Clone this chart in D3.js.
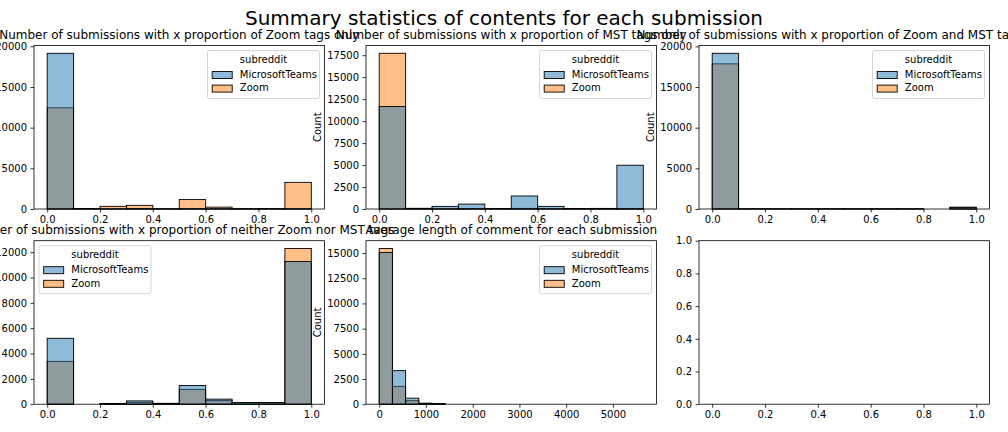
<!DOCTYPE html>
<html>
<head>
<meta charset="utf-8">
<script src="https://cdn.jsdelivr.net/npm/d3@7"></script>
<style>
  body { margin: 0; background: #fff; }
  svg { display: block; font-family: "DejaVu Sans", sans-serif; }
</style>
</head>
<body>
<div id="chart"></div>
<script>
// data (counts per bin)
var suptitle = 'Summary statistics of contents for each submission';
var hueLevels = ['MicrosoftTeams', 'Zoom'];

var propBins = [0.0, 0.1, 0.2, 0.3, 0.4, 0.5, 0.6, 0.7, 0.8, 0.9];
var propTicks = [0.0, 0.2, 0.4, 0.6, 0.8, 1.0];

var zoomOnlyTeams = [19150, 30, 10, 40, 20, 30, 10, 5, 5, 20];
var zoomOnlyZoom  = [12450, 60, 330, 450, 30, 1180, 230, 40, 50, 3280];

var mstOnlyTeams = [11670, 50, 300, 560, 60, 1480, 300, 60, 70, 4980];
var mstOnlyZoom  = [17720, 80, 30, 60, 20, 70, 40, 10, 10, 60];

var bothTeams = [19150, 30, 20, 20, 20, 20, 20, 20, 0, 220];
var bothZoom  = [17850, 20, 20, 20, 20, 20, 20, 20, 0, 200];

var neitherTeams = [5200, 0, 60, 260, 70, 1480, 400, 130, 130, 11260];
var neitherZoom  = [3380, 0, 50, 150, 50, 1160, 280, 110, 110, 12290];

var lenBins = [0, 282.5, 565, 847.5, 1130, 1412.5, 1695, 1977.5, 2260, 2542.5,
               2825, 3107.5, 3390, 3672.5, 3955, 4237.5, 4520, 4802.5, 5085, 5367.5];
var lenTeams = [15050, 3330, 600, 100, 60, 0, 0, 0, 0, 0, 0, 0, 0, 0, 0, 0, 0, 0, 0, 0];
var lenZoom  = [15450, 1770, 350, 80, 40, 0, 0, 0, 0, 0, 0, 0, 0, 0, 0, 0, 0, 0, 0, 0];
var lenTicks = [0, 1000, 2000, 3000, 4000, 5000];

var tickZoomOnly = [0, 5000, 10000, 15000, 20000];
var tickMstOnly = [0, 2500, 5000, 7500, 10000, 12500, 15000, 17500];
var tickBoth = [0, 5000, 10000, 15000, 20000];
var tickNeither = [0, 2000, 4000, 6000, 8000, 10000, 12000];
var tickLen = [0, 2500, 5000, 7500, 10000, 12500, 15000];
var tickUnit = [0.0, 0.2, 0.4, 0.6, 0.8, 1.0];

var svgWidth = 1008;
var svgHeight = 432;
var colLeft = [34, 366, 699];
var rowTop = [45.5, 240.7];
var axW = 290.5;
var axH = 163.5;

var teamsFill = 'rgba(31,119,180,0.5)';
var zoomFill = 'rgba(255,127,14,0.5)';

var svg = d3.select('#chart')
    .append('svg')
    .attr('width', svgWidth)
    .attr('height', svgHeight);

svg.append('rect').attr('width', svgWidth).attr('height', svgHeight).attr('fill', '#fff');

function styleAxis(sel) {
    sel.attr('font-family', 'DejaVu Sans').attr('font-size', 10);
    sel.select('.domain').remove();
    sel.selectAll('line').attr('stroke', '#000').attr('stroke-width', 0.8);
    sel.selectAll('text').attr('fill', '#000');
}

function drawPanel(col, row, p) {
    var g = svg.append('g')
        .attr('transform', `translate(${colLeft[col]},${rowTop[row]})`);

    g.append('rect').attr('width', axW).attr('height', axH).attr('fill', '#fff');

    var lo = p.xDomain[0], hi = p.xDomain[1], pad = (hi - lo) * 0.05;
    var x = d3.scaleLinear().domain([lo - pad, hi + pad]).range([0, axW]);
    var yMax = p.yMax != null ? p.yMax : d3.max(p.teams.concat(p.zoom)) * 1.05;
    var y = d3.scaleLinear().domain([0, yMax]).range([axH, 0]);

    if (p.bins) {
        // zoom layer first, teams layered on top (seaborn order)
        [[p.zoom, zoomFill], [p.teams, teamsFill]].forEach(function(s) {
            var rows = p.bins.map((b, i) => ({ x0: b, x1: b + p.binW, v: s[0][i] }))
                .filter(d => d.v > 0);
            g.append('g').selectAll('rect')
                .data(rows)
                .enter()
                .append('rect')
                .attr('x', d => x(d.x0))
                .attr('width', d => x(d.x1) - x(d.x0))
                .attr('y', d => y(d.v))
                .attr('height', d => axH - y(d.v))
                .attr('fill', s[1])
                .attr('stroke', '#000')
                .attr('stroke-width', 0.9);
        });
    }

    g.append('g')
        .attr('transform', `translate(0,${axH})`)
        .call(d3.axisBottom(x).tickValues(p.xTicks).tickFormat(d3.format(p.xFmt))
            .tickSize(3.5).tickPadding(3.5).tickSizeOuter(0))
        .call(styleAxis);

    g.append('g')
        .call(d3.axisLeft(y).tickValues(p.yTicks).tickFormat(d3.format(p.yFmt))
            .tickSize(3.5).tickPadding(3.5).tickSizeOuter(0))
        .call(styleAxis);

    g.append('rect')
        .attr('width', axW).attr('height', axH)
        .attr('fill', 'none').attr('stroke', '#000').attr('stroke-width', 0.8);

    if (p.title) {
        g.append('text')
            .attr('x', axW / 2).attr('y', -6.5)
            .attr('text-anchor', 'middle')
            .style('font-size', '12px')
            .text(p.title);
    }
    if (p.bins) {
        g.append('text')
            .attr('transform', `translate(-48.5,${axH / 2}) rotate(-90)`)
            .attr('dy', '0.35em')
            .attr('text-anchor', 'middle')
            .style('font-size', '10px')
            .text('Count');

        // legend
        var lw = 112, lh = 48;
        var lx = p.legendLeft ? 5 : axW - 5 - lw;
        var lg = g.append('g').attr('transform', `translate(${lx},5)`);
        lg.append('rect')
            .attr('width', lw).attr('height', lh).attr('rx', 2)
            .attr('fill', 'rgba(255,255,255,0.8)')
            .attr('stroke', '#ccc').attr('stroke-width', 0.8);
        lg.append('text')
            .attr('x', lw / 2).attr('y', 12.8)
            .attr('text-anchor', 'middle')
            .style('font-size', '10px')
            .text('subreddit');
        [teamsFill, zoomFill].forEach(function(c, i) {
            lg.append('rect')
                .attr('x', 4.7).attr('y', 21 + i * 13.6)
                .attr('width', 20).attr('height', 7)
                .attr('fill', c).attr('stroke', '#000').attr('stroke-width', 0.9);
            lg.append('text')
                .attr('x', 32.3).attr('y', 27.3 + i * 13.6)
                .style('font-size', '10px')
                .text(hueLevels[i]);
        });
    }
}

svg.append('text')
    .attr('x', svgWidth / 2).attr('y', 25)
    .attr('text-anchor', 'middle')
    .style('font-size', '20px')
    .text(suptitle);

drawPanel(0, 0, {
    title: 'Number of submissions with x proportion of Zoom tags only',
    bins: propBins, binW: 0.1, teams: zoomOnlyTeams, zoom: zoomOnlyZoom,
    xDomain: [0, 1], xTicks: propTicks, xFmt: '.1f', yTicks: tickZoomOnly, yFmt: 'd'
});
drawPanel(1, 0, {
    title: 'Number of submissions with x proportion of MST tags only',
    bins: propBins, binW: 0.1, teams: mstOnlyTeams, zoom: mstOnlyZoom,
    xDomain: [0, 1], xTicks: propTicks, xFmt: '.1f', yTicks: tickMstOnly, yFmt: 'd'
});
drawPanel(2, 0, {
    title: 'Number of submissions with x proportion of Zoom and MST tags only',
    bins: propBins, binW: 0.1, teams: bothTeams, zoom: bothZoom,
    xDomain: [0, 1], xTicks: propTicks, xFmt: '.1f', yTicks: tickBoth, yFmt: 'd'
});
drawPanel(0, 1, {
    title: 'Number of submissions with x proportion of neither Zoom nor MST tags',
    bins: propBins, binW: 0.1, teams: neitherTeams, zoom: neitherZoom, legendLeft: true,
    xDomain: [0, 1], xTicks: propTicks, xFmt: '.1f', yTicks: tickNeither, yFmt: 'd'
});
drawPanel(1, 1, {
    title: 'Average length of comment for each submission',
    bins: lenBins, binW: 282.5, teams: lenTeams, zoom: lenZoom,
    xDomain: [0, 5650], xTicks: lenTicks, xFmt: 'd', yTicks: tickLen, yFmt: 'd'
});
drawPanel(2, 1, {
    xDomain: [0, 1], xTicks: tickUnit, xFmt: '.1f', yTicks: tickUnit, yFmt: '.1f',
    yMax: 1
});
</script>
</body>
</html>
